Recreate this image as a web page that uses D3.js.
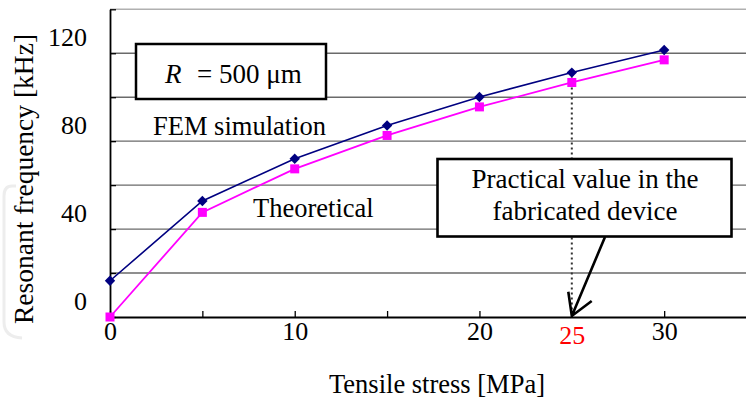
<!DOCTYPE html>
<html>
<head>
<meta charset="utf-8">
<script src="https://cdn.jsdelivr.net/npm/d3@7"></script>
<style>
  html, body { margin: 0; padding: 0; background: #fff; }
  svg { display: block; }
  text { font-family: "Liberation Serif", "Times New Roman", serif; fill: #000; }
</style>
</head>
<body>
<svg id="chart" width="746" height="403"></svg>
<script>
// Tensile stress (MPa) at which both models were evaluated
const stress = [0, 5, 10, 15, 20, 25, 30];
// FEM simulation, resonant frequency in kHz
const femFreq = [16.5, 52.8, 72.0, 87.1, 100.1, 111.2, 121.5];
// Theoretical membrane model, resonant frequency in kHz
const theoFreq = [0, 47.6, 67.4, 82.6, 95.6, 106.7, 117.0];
// Axis ticks and labels
const xTicks = [0, 5, 10, 15, 20, 25, 30];
const xLabels = [0, 10, 20, 30];
const yTicks = [0, 20, 40, 60, 80, 100, 120, 140];
const yLabels = [0, 40, 80, 120];
// Stress of the fabricated device
const practicalStress = 25;

const svg = d3.select("#chart");
const plotLeft = 110, plotBottom = 317, plotTop = 9.3, plotRight = 746;

const x = d3.scaleLinear().domain([0, 34.43]).range([plotLeft, plotRight]);
const y = d3.scaleLinear().domain([0, 140]).range([plotBottom, plotTop]);

// faint rounded frame at the lower left
svg.append("path")
  .attr("d", "M16 186 L12 186 Q4 186 4 196 L4 322 Q4 337 22 338")
  .attr("fill", "none").attr("stroke", "#ededed").attr("stroke-width", 3);

// horizontal gridlines
svg.append("g").selectAll("line")
  .data(yTicks.filter(d => d > 0))
  .join("line")
  .attr("x1", plotLeft).attr("x2", plotRight)
  .attr("y1", d => y(d)).attr("y2", d => y(d))
  .attr("stroke", d => d === 140 ? "#b0b0b0" : "#6a6a6a")
  .attr("stroke-width", 1.4);

// dotted drop line at the practical stress
const femAtPractical = femFreq[stress.indexOf(practicalStress)];
svg.append("line")
  .attr("x1", x(practicalStress)).attr("x2", x(practicalStress))
  .attr("y1", y(femAtPractical)).attr("y2", y(0))
  .attr("stroke", "#333").attr("stroke-width", 2)
  .attr("stroke-dasharray", "2,3");

// axes
const xAxis = d3.axisBottom(x)
  .tickValues(xTicks)
  .tickSize(-6).tickSizeOuter(0).tickPadding(5)
  .tickFormat(d => (xLabels.includes(d) || d === practicalStress) ? d : "");
const gx = svg.append("g").attr("transform", `translate(0,${plotBottom})`).call(xAxis);
gx.select(".domain").attr("stroke", "#000").attr("stroke-width", 1.8);
gx.selectAll(".tick line").attr("stroke", "#000").attr("stroke-width", 1.3);
gx.selectAll(".tick text")
  .attr("font-size", 26).attr("font-family", null)
  .style("fill", d => d === practicalStress ? "#ff0000" : "#000")
  .attr("y", d => d === practicalStress ? 9 : 5);

const yAxis = d3.axisLeft(y)
  .tickValues(yTicks)
  .tickSize(-6).tickSizeOuter(0).tickPadding(23)
  .tickFormat(d => yLabels.includes(d) ? d : "");
const gy = svg.append("g").attr("transform", `translate(${plotLeft},0)`).call(yAxis);
gy.select(".domain").attr("stroke", "#000").attr("stroke-width", 1.8);
gy.selectAll(".tick line").attr("stroke", "#000").attr("stroke-width", 1.3);
gy.selectAll(".tick text")
  .attr("font-size", 26).attr("font-family", null)
  .attr("dy", null).attr("y", -8);

// series lines
const line = d3.line().x((d, i) => x(stress[i])).y(d => y(d));
svg.append("path").datum(femFreq)
  .attr("d", line).attr("fill", "none")
  .attr("stroke", "#000080").attr("stroke-width", 1.6);
svg.append("path").datum(theoFreq)
  .attr("d", line).attr("fill", "none")
  .attr("stroke", "#ff00ff").attr("stroke-width", 1.8);

// markers: diamonds for FEM, squares for theory
svg.append("g").selectAll("path")
  .data(femFreq)
  .join("path")
  .attr("d", (d, i) => {
    const cx = x(stress[i]), cy = y(d), r = 5.2;
    return `M${cx},${cy - r}L${cx + r},${cy}L${cx},${cy + r}L${cx - r},${cy}Z`;
  })
  .attr("fill", "#000080");
svg.append("g").selectAll("rect")
  .data(theoFreq)
  .join("rect")
  .attr("x", (d, i) => x(stress[i]) - 4.5)
  .attr("y", d => y(d) - 4.5)
  .attr("width", 9).attr("height", 9)
  .attr("fill", "#ff00ff");

// series labels
svg.append("text").attr("x", 153).attr("y", 135)
  .attr("font-size", 26.5).text("FEM simulation");
svg.append("text").attr("x", 253).attr("y", 217)
  .attr("font-size", 26.5).text("Theoretical");

// radius box
svg.append("rect")
  .attr("x", 136).attr("y", 44).attr("width", 190).attr("height", 55)
  .attr("fill", "#fff").attr("stroke", "#000").attr("stroke-width", 2.5);
svg.append("text").attr("x", 165).attr("y", 83)
  .attr("font-size", 27).attr("font-style", "italic").text("R");
svg.append("text").attr("x", 197).attr("y", 83)
  .attr("font-size", 27).text("= 500 μm");

// annotation box with arrow to the practical stress
svg.append("rect")
  .attr("x", 437.5).attr("y", 159).attr("width", 294).attr("height", 77.5)
  .attr("fill", "#fff").attr("stroke", "#000").attr("stroke-width", 2.6);
svg.append("text").attr("x", 585).attr("y", 188)
  .attr("font-size", 27).attr("text-anchor", "middle")
  .text("Practical value in the");
svg.append("text").attr("x", 585).attr("y", 220)
  .attr("font-size", 27).attr("text-anchor", "middle")
  .text("fabricated device");

const tipX = x(practicalStress), tipY = y(0) - 1;
svg.append("path")
  .attr("d", `M605,237 L${tipX},${tipY} M568.3,291.7 L${tipX},${tipY} L591.7,301`)
  .attr("fill", "none").attr("stroke", "#000").attr("stroke-width", 2.6)
  .attr("stroke-linejoin", "miter");

// axis titles
svg.append("text")
  .attr("x", 437).attr("y", 393)
  .attr("font-size", 26.5).attr("text-anchor", "middle")
  .text("Tensile stress [MPa]");
svg.append("text")
  .attr("transform", "translate(33,179) rotate(-90)")
  .attr("font-size", 27.5).attr("text-anchor", "middle")
  .text("Resonant frequency [kHz]");
</script>
</body>
</html>
